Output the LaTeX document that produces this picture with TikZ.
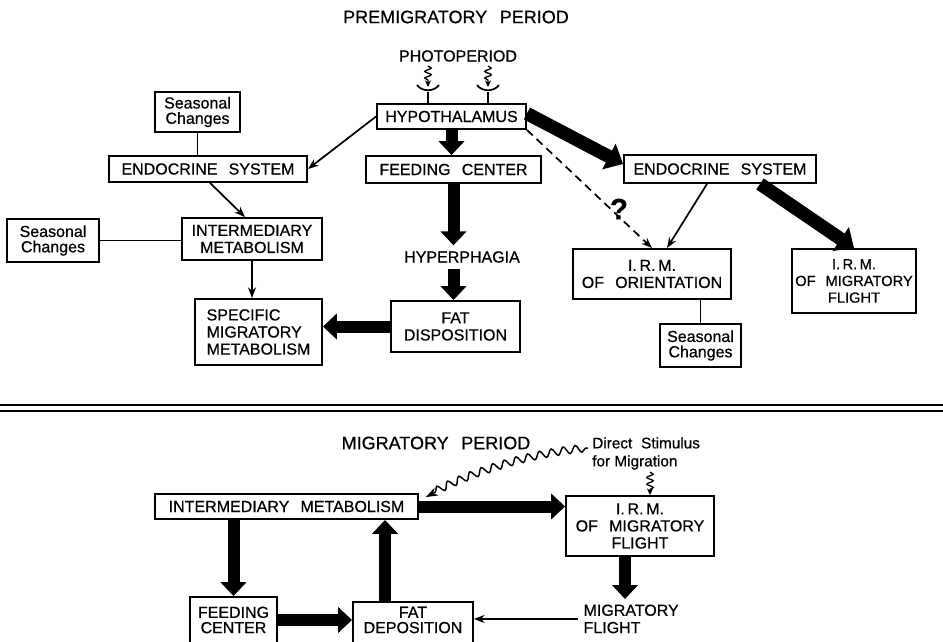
\documentclass[tikz,border=0pt]{standalone}
\usepackage{fontspec}
\setmainfont{Liberation Sans}[FakeBold=0.6]
\usetikzlibrary{arrows.meta,calc,decorations.pathmorphing}
\newcommand\wgap{\hspace{0.7em}}
\begin{document}
\begin{tikzpicture}[x=0.75pt,y=-0.75pt,
  box/.style={draw, line width=1.4pt, inner sep=0pt, align=center, font=\fontsize{12}{12.8}\selectfont},
  sbox/.style={box, font=\fontsize{12}{11.5}\selectfont},
  lbl/.style={inner sep=0pt, align=center, font=\fontsize{12}{12.8}\selectfont},
  ttl/.style={inner sep=0pt, font=\fontsize{13.5}{14}\selectfont},
  tarr/.style={line width=1.3pt, -{Stealth[length=8pt,width=6pt]}},
  tline/.style={line width=1.3pt},
  barr/.style={line width=9pt, -{Triangle[length=10.5pt,width=19pt]}},
  dbarr/.style={line width=10pt, -{Triangle[length=12pt,width=21pt]}},
  dasharr/.style={tarr, dash pattern=on 6pt off 4pt},
  sq/.style={line width=1pt, decorate, decoration={snake, segment length=5pt, amplitude=2.4pt, post length=3pt}, -{Stealth[length=5pt,width=4.5pt]}},
  wavy/.style={line width=1.1pt, decorate, decoration={snake, segment length=9pt, amplitude=2.8pt, pre length=2pt, post length=7pt}, -{Stealth[length=9pt,width=6.5pt]}},
]
\useasboundingbox (0,0) rectangle (943,642);
\clip (0,0) rectangle (943,642);

% ---------- premigratory period ----------
\node[ttl] (t1) at (456,17) {PREMIGRATORY\wgap PERIOD};
\node[lbl] (photo) at (458,56) {PHOTOPERIOD};
\node[box, minimum width=111.75pt, minimum height=18.75pt] (hyp) at (451.5,116.5) {HYPOTHALAMUS};
\node[box, minimum width=131.25pt, minimum height=20.25pt] (feed) at (453.5,169.5) {FEEDING\wgap CENTER};
\node[box, minimum width=148.5pt, minimum height=19.5pt] (endo1) at (208,169) {ENDOCRINE\wgap SYSTEM};
\node[box, minimum width=144pt, minimum height=21pt] (endo2) at (720,169) {ENDOCRINE\wgap SYSTEM};
\node[sbox, minimum width=63.75pt, minimum height=30pt] (seas1) at (197.5,112) {Seasonal\\Changes};
\node[box, minimum width=105pt, minimum height=31.5pt] (inter) at (252,239) {INTERMEDIARY\\METABOLISM};
\node[sbox, minimum width=69pt, minimum height=32.25pt] (seas2) at (53,240.5) {Seasonal\\Changes};
\node[box, align=left, minimum width=95.25pt, minimum height=49.5pt] (spec) at (258.5,332) {SPECIFIC\\MIGRATORY\\METABOLISM};
\node[box, minimum width=96.75pt, minimum height=38.25pt] (fat) at (455.5,326.5) {FAT\\DISPOSITION};
\node[lbl, outer sep=4.5pt] (hyper) at (462,257) {HYPERPHAGIA};
\node[box, minimum width=118.5pt, minimum height=37.5pt] (irmo) at (652,274) {I.\,R.\,M.\\OF\wgap ORIENTATION};
\node[sbox, minimum width=60.75pt, minimum height=32.25pt] (seas3) at (700.5,345.5) {Seasonal\\Changes};
\node[box, font=\fontsize{11}{12.5}\selectfont, minimum width=93pt, minimum height=48pt] (irmf) at (854,281) {I.\,R.\,M.\\OF\hspace{0.4em} MIGRATORY\\FLIGHT};
\node[inner sep=0pt, font=\fontsize{22}{22}\selectfont\bfseries] (q) at (619,209) {?};

% photoperiod receptors
\coordinate (r1) at (428,92);
\coordinate (r2) at (488,92);
\foreach \r in {r1,r2}{
  \draw[sq] ($(\r)+(0,-26)$) -- ($(\r)+(0,-5)$);
  \draw[tline] ($(\r)+(-11,-7)$) .. controls ($(\r)+(-6,0)$) and ($(\r)+(6,0)$) .. ($(\r)+(11,-7)$);
  \draw[tline] (\r) -- (\r |- hyp.north);
}

% connectors
\draw[tline] (seas1.south) -- (seas1.south |- endo1.north);
\draw[tline] (seas2.east) -- (seas2.east -| inter.west);
\draw[tarr] (hyp.west) -- (endo1.east);
\draw[tarr] ($(endo1.south)+(2,0)$) -- ($(inter.north)+(-7,0)$);
\draw[tarr] (inter.south) -- (inter.south |- spec.north);
\draw[barr] (hyp.south) -- (hyp.south |- feed.north);
\draw[barr] (feed.south) -- (feed.south |- hyper.north);
\draw[barr] (feed.south |- hyper.south) -- (feed.south |- fat.north);
\draw[barr] (fat.west) -- (fat.west -| spec.east);
\draw[dbarr] ($(hyp.east)+(0,-3)$) -- ($(endo2.west)+(0,-5)$);
\draw[dasharr] (hyp.south east) -- (irmo.north);
\draw[tarr] ($(endo2.south)+(-13,0)$) -- ($(irmo.north)+(15,0)$);
\draw[dbarr] ($(endo2.south)+(40,0)$) -- (irmf.north);
\draw[tline] (seas3.north |- irmo.south) -- (seas3.north);

% divider
\draw[line width=1.5pt] (0,405) -- (943,405);
\draw[line width=1.5pt] (0,410.5) -- (943,410.5);

% ---------- migratory period ----------
\node[ttl] (t2) at (436,443) {MIGRATORY\wgap PERIOD};
\node[inner sep=0pt, anchor=north west, align=left, font=\fontsize{11.5}{13.5}\selectfont] (ds) at (592,437) {Direct\hspace{0.3em} Stimulus\\for Migration};
\node[box, minimum width=197.25pt, minimum height=18.75pt] (inter2) at (286.5,506.5) {INTERMEDIARY\wgap METABOLISM};
\node[box, minimum width=111pt, minimum height=45pt] (irmf2) at (640,526) {I.\,R.\,M.\\OF\wgap MIGRATORY\\FLIGHT};
\node[box, minimum width=65.25pt, minimum height=37.5pt] (feed2) at (233.5,622) {};
\node[lbl, font=\fontsize{12}{11.5}\selectfont] (feed2t) at (233.5,620) {FEEDING\\CENTER};
\node[box, minimum width=90pt, minimum height=33pt] (fat2) at (413,624) {};
\node[lbl, font=\fontsize{12}{11.5}\selectfont] (fat2t) at (413,620) {FAT\\DEPOSITION};
\node[lbl, align=left, anchor=north west, inner sep=4pt, font=\fontsize{12}{13}\selectfont] (mig) at (578,599) {MIGRATORY\\FLIGHT};

\draw[wavy] ($(ds.north west)+(-4,11)$) .. controls (540,452) and (480,468) .. ($(inter2.north east)+(7,4)$);
\draw[sq] ($(irmf2.north)+(10,-23)$) -- ($(irmf2.north)+(10,0)$);
\draw[barr] (inter2.east) -- (inter2.east -| irmf2.west);
\draw[barr] (feed2.north |- inter2.south) -- (feed2.north);
\path ($(fat2.north)+(-28,0)$) coordinate (fup);
\draw[barr] (fup) -- (fup |- inter2.south);
\draw[barr] (feed2.east |- feed2t) -- (fat2.west |- feed2t);
\path ($(irmf2.south)+(-15,0)$) coordinate (mdown);
\draw[barr] (mdown) -- (mdown |- mig.north);
\draw[tarr] (mig.west) -- (mig.west -| fat2.east);
\end{tikzpicture}
\end{document}
